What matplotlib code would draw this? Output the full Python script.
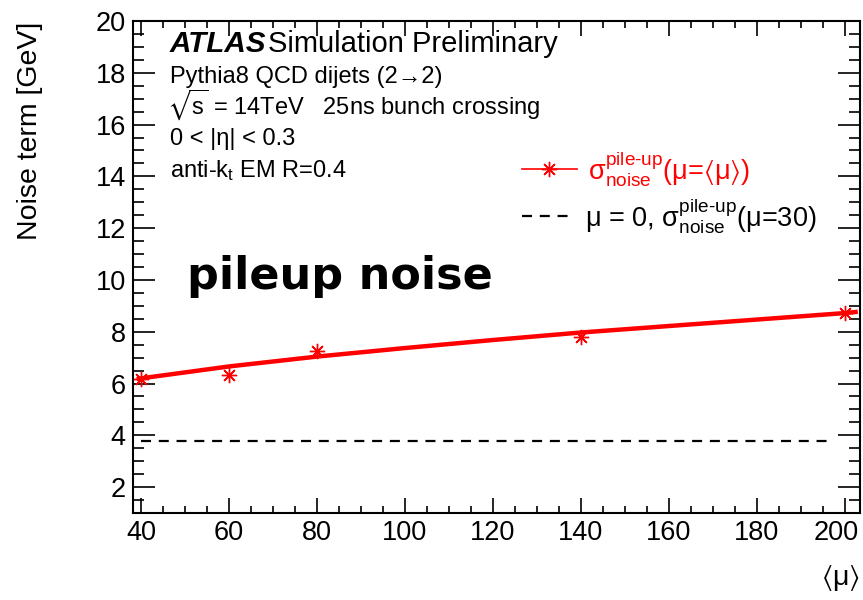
import matplotlib
matplotlib.use("Agg")
import matplotlib.pyplot as plt
from matplotlib.ticker import MultipleLocator
from matplotlib.transforms import ScaledTranslation

plt.rcParams['font.family'] = ['Liberation Sans', 'DejaVu Sans']
plt.rcParams['mathtext.fontset'] = 'custom'
plt.rcParams['mathtext.rm'] = 'Liberation Sans'
plt.rcParams['mathtext.it'] = 'Liberation Sans:italic'
plt.rcParams['mathtext.bf'] = 'Liberation Sans:bold'
plt.rcParams['mathtext.default'] = 'regular'
plt.rcParams['mathtext.fallback'] = 'stixsans'

# data
mu_points = [40, 60, 80, 140, 200]
noise_points = [6.17, 6.33, 7.25, 7.81, 8.73]

fit_mu = [39, 40, 60, 80, 100, 120, 140, 160, 180, 200, 203]
fit_noise = [6.17, 6.20, 6.66, 7.04, 7.37, 7.68, 7.97, 8.22, 8.47, 8.72, 8.77]

ref_mu = [40, 197]
ref_noise = [3.77, 3.77]

xticks = [40, 60, 80, 100, 120, 140, 160, 180, 200]
yticks = [2, 4, 6, 8, 10, 12, 14, 16, 18, 20]

fig = plt.figure(figsize=(8.63, 6.00), dpi=100)
ax = fig.add_axes([132.7 / 863, 1 - 513 / 600, (860 - 132.7) / 863, (513 - 21) / 600])

red = '#ff0000'
ax.plot(fit_mu, fit_noise, color=red, lw=3.2, solid_capstyle='butt', zorder=3)
ax.plot(mu_points, noise_points, ls='none', marker=(8, 2, 0), ms=11, mew=1.0,
        color=red, zorder=4)
ax.plot(ref_mu, ref_noise, color='black', lw=1.6, ls=(0, (4.5, 3.5)), zorder=2)

ax.set_xlim(38.1, 203.5)
ax.set_ylim(1.0, 20.0)
ax.set_xticks(xticks)
ax.set_yticks(yticks)
ax.xaxis.set_minor_locator(MultipleLocator(5))
ax.yaxis.set_minor_locator(MultipleLocator(0.5))

for s in ax.spines.values():
    s.set_linewidth(1.5)
ax.tick_params(which='both', direction='in', top=True, right=True, width=1.2)
ax.tick_params(axis='x', which='major', length=10.5, labelsize=19.5, pad=5)
ax.tick_params(axis='x', which='minor', length=5.3)
ax.tick_params(axis='y', which='major', length=15.8, labelsize=19.5, pad=5)
ax.tick_params(axis='y', which='minor', length=7.9)

# shift the last x tick label left so it stays inside the figure (as in the reference)
last = ax.get_xticklabels()[-1]
last.set_transform(last.get_transform() + ScaledTranslation(-8 / 100, 0, fig.dpi_scale_trans))


def px(x, y):
    return (x / 863, 1 - y / 600)


fig.text(*px(30, 22), 'Noise term [GeV]', rotation=90, ha='center', va='top',
         fontsize=20.5)
fig.text(*px(860, 578), r'$\langle$μ$\rangle$', ha='right', va='center',
         fontsize=20.5)

# annotations
fig.text(*px(170, 52), 'ATLAS', fontsize=21.3, fontweight='bold', style='italic', va='baseline')
fig.text(*px(268, 52), 'Simulation Preliminary', fontsize=21, va='baseline')
fig.text(*px(170, 83), 'Pythia8 QCD dijets (2→2)', fontsize=17, va='baseline')
fig.text(*px(167, 114), r'$\sqrt{s}$ = 14TeV   25ns bunch crossing', fontsize=17, va='baseline')
fig.text(*px(170, 145), '0 < |η| < 0.3', fontsize=17, va='baseline')
fig.text(*px(170, 177), r'anti-k$_{t}$ EM R=0.4', fontsize=17, va='baseline')

fig.text(*px(187, 289), 'pileup noise', fontsize=32, fontweight='bold', va='baseline',
         family='DejaVu Sans')

# legend
leg_y1 = 169
leg_y2 = 216
fig.add_artist(plt.Line2D([522 / 863, 577 / 863], [1 - leg_y1 / 600] * 2, color=red, lw=1.2))
fig.add_artist(plt.Line2D([549 / 863], [1 - leg_y1 / 600], marker=(8, 2, 0), ms=11,
                          mew=1.0, color=red, ls='none'))
fig.add_artist(plt.Line2D([522 / 863, 575 / 863], [1 - leg_y2 / 600] * 2, color='black',
                          lw=1.6, ls=(0, (4.5, 3.5))))
fig.text(*px(588, leg_y1), r'$\sigma^{pile\text{-}up}_{noise}$(μ=$\langle$μ$\rangle$)', color=red,
         fontsize=19.5, va='center')
fig.text(*px(585, leg_y2), r'μ = 0, $\sigma^{pile\text{-}up}_{noise}$(μ=30)',
         color='black', fontsize=19.5, va='center')

fig.savefig('out.png', dpi=100)
